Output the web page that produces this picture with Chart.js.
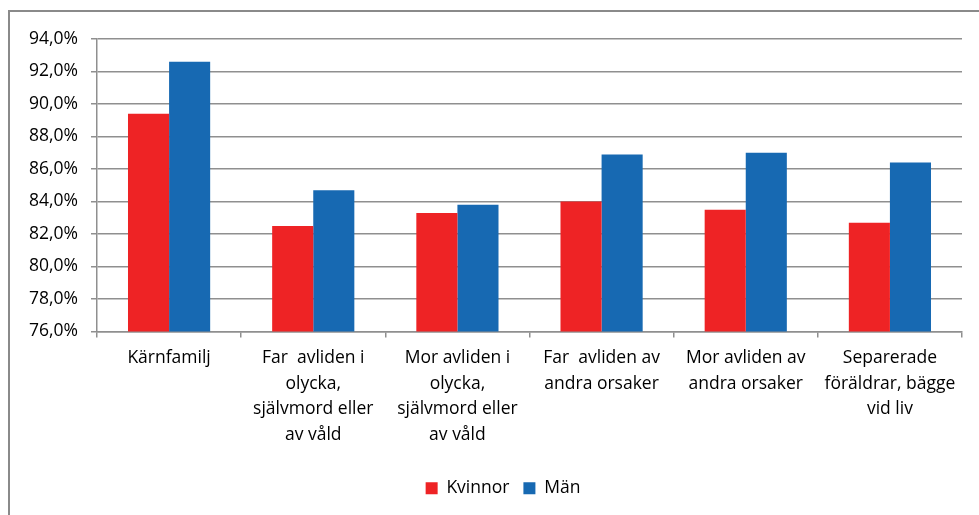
<!DOCTYPE html>
<html>
<head>
<meta charset="utf-8">
<script src="https://cdn.jsdelivr.net/npm/chart.js@4"></script>
<style>
  html, body { margin: 0; padding: 0; background: #fff; }
  body { width: 979px; height: 515px; overflow: hidden; position: relative; }
  #frame { position: absolute; left: 8px; top: 10px; width: 1200px; height: 800px; border: 2px solid #8a8a8a; }
  #c { position: absolute; left: 0; top: 0; }
</style>
</head>
<body>
<div id="frame"></div>
<canvas id="c" width="979" height="515"></canvas>
<script>
const categories = [
  ["Kärnfamilj"],
  ["Far  avliden i", "olycka,", "självmord eller", "av våld"],
  ["Mor avliden i", "olycka,", "självmord eller", "av våld"],
  ["Far  avliden av", "andra orsaker"],
  ["Mor avliden av", "andra orsaker"],
  ["Separerade", "föräldrar, bägge", "vid liv"]
];
const kvinnor = [89.4, 82.5, 83.3, 84.0, 83.5, 82.7];
const man = [92.6, 84.7, 83.8, 86.9, 87.0, 86.4];
const yMin = 76, yMax = 94, yStep = 2;

const font = "'Open Sans', sans-serif";
const gridColor = "#8f8f8f";

// legend in the original sits a bit right of the plot centre
const shiftLegend = {
  id: "shiftLegend",
  afterLayout(chart) {
    chart.legend.left += 22;
    chart.legend.right += 22;
  }
};

new Chart(document.getElementById("c"), {
  type: "bar",
  data: {
    labels: categories,
    datasets: [
      { label: "Kvinnor", data: kvinnor, backgroundColor: "#ee2325" },
      { label: "Män", data: man, backgroundColor: "#1769b2" }
    ]
  },
  options: {
    responsive: false,
    animation: false,
    devicePixelRatio: 1,
    layout: { padding: { left: 0, right: 17, top: 39, bottom: 8 } },
    datasets: { bar: { categoryPercentage: 0.57, barPercentage: 1 } },
    plugins: {
      legend: {
        position: "bottom",
        labels: {
          boxWidth: 12, boxHeight: 12, padding: 14,
          color: "#000",
          font: { family: font, size: 17.5 }
        }
      },
      tooltip: { enabled: false }
    },
    scales: {
      x: {
        grid: { display: true, drawOnChartArea: false, tickLength: 6, color: gridColor, lineWidth: 1.5, offset: true },
        border: { color: gridColor, width: 1.5 },
        ticks: {
          color: "#000", padding: 8, maxRotation: 0, autoSkip: false,
          font: { family: font, size: 17.5, lineHeight: 1.46 }
        },
        afterFit: s => { s.height = 134; }
      },
      y: {
        min: yMin, max: yMax,
        grid: { color: gridColor, lineWidth: 1.5, tickLength: 6 },
        border: { color: gridColor, width: 1.5 },
        ticks: {
          stepSize: yStep, color: "#000", padding: 13,
          font: { family: font, size: 17.5 },
          callback: v => v.toFixed(1).replace(".", ",") + "%"
        },
        afterFit: s => { s.width = 97; }
      }
    }
  },
  plugins: [shiftLegend]
});
</script>
</body>
</html>
